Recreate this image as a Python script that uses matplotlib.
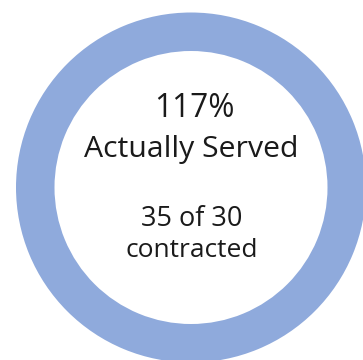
import matplotlib
matplotlib.use("Agg")
import matplotlib.pyplot as plt

# Service counts
served = 35
contracted = 30
pct = round(100 * served / contracted)

ring_values = [min(served, contracted), max(contracted - served, 0)]
ring_colors = ["#8FAADC", "#FFFFFF"]

W, H = 363, 360
fig = plt.figure(figsize=(W / 100, H / 100), dpi=100)
ax = fig.add_axes([0, 0, 1, 1])
ax.axis("off")

cx, cy, r = 191, H - 187.5, 175
ax.pie(ring_values, colors=ring_colors, radius=r, center=(cx, cy),
       startangle=90, counterclock=False,
       wedgeprops=dict(width=38.5, linewidth=0))
ax.set_xlim(0, W)
ax.set_ylim(0, H)
ax.set_aspect("auto")

font = "Open Sans"
ink = "#1a1a1a"
ax.text(cx + 3, H - 117, f"{pct}%", ha="center", va="baseline",
        fontsize=22.8, family=font, color=ink)
ax.text(cx, H - 157, "Actually Served", ha="center", va="baseline",
        fontsize=21.8, family=font, color=ink)
ax.text(cx + 1, H - 226, f"{served} of {contracted}", ha="center", va="baseline",
        fontsize=19.5, family=font, color=ink)
ax.text(cx + 1, H - 257, "contracted", ha="center", va="baseline",
        fontsize=19, family=font, color=ink)

fig.savefig("out.png", dpi=100)
